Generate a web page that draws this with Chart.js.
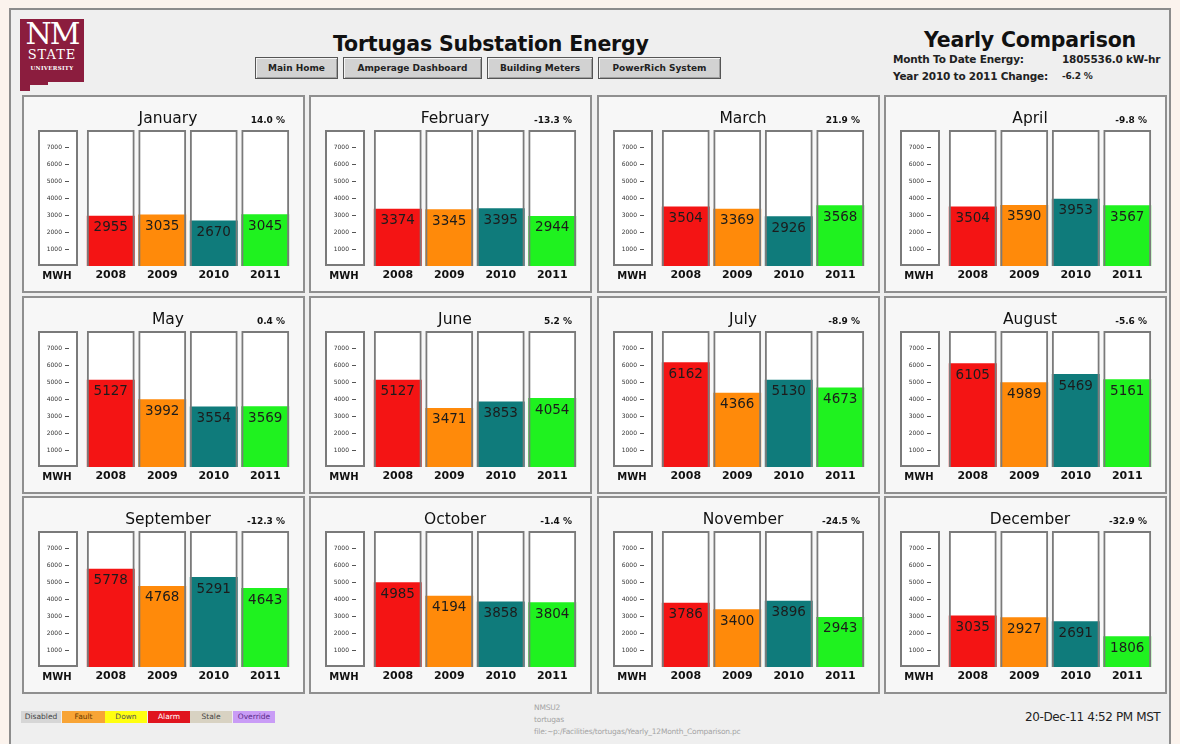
<!doctype html>
<html lang="en">
<head>
    <meta charset="utf-8">
    <title>Tortugas Substation Energy - Yearly Comparison</title>
    <style>
        body {
            margin: 0;
            width: 1180px;
            height: 744px;
            overflow: hidden;
            background: #fbf3ed;
            font-family: "DejaVu Sans", Verdana, sans-serif;
            position: relative;
        }

        .frame {
            position: absolute;
            left: 9px;
            top: 8px;
            width: 1158px;
            height: 745px;
            border: 2px solid #8c8c8c;
            background: #efefef;
        }

        .abs { position: absolute; white-space: nowrap; }

        .logo {
            position: absolute;
            left: 20px;
            top: 19px;
            width: 64px;
            height: 72px;
            background: #8b1d3e;
            clip-path: polygon(0 0, 64px 0, 64px 63px, 28px 63px, 28px 66px, 10px 66px, 10px 72px, 0 72px);
            color: #fff;
            font-family: "DejaVu Serif", "Liberation Serif", serif;
            text-align: center;
        }
        .logo .nm { position: absolute; left: 0; top: 0px; width: 64px; font-size: 30px; letter-spacing: -2px; line-height: 30px; }
        .logo .st { position: absolute; left: 0; top: 29px; width: 64px; font-size: 13px; letter-spacing: 1px; line-height: 14px; }
        .logo .un { position: absolute; left: 0; top: 45px; width: 64px; font-size: 5.5px; letter-spacing: 0.3px; line-height: 8px; font-weight: bold; }

        .btn {
            position: absolute;
            top: 57px;
            height: 20px;
            background: #d2d2d2;
            border: 1px solid #555;
            box-shadow: inset 1px 1px #f4f4f4, inset -1px -1px #a0a0a0;
            font-size: 9px;
            font-weight: bold;
            color: #222;
            text-align: center;
            line-height: 20px;
        }

        .info { font-size: 10.5px; font-weight: bold; color: #222; letter-spacing: -0.2px; }

        .panel {
            position: absolute;
            width: 279px;
            height: 194px;
            border: 2px solid #8f8f8f;
            background: #f7f7f7;
        }
        .panel canvas { position: absolute; left: 0; top: 0; }

        .legend {
            position: absolute;
            top: 711px;
            height: 12px;
            font-size: 7.5px;
            line-height: 12px;
            text-align: center;
        }
        .note { color: #a4a4a4; font-size: 7.5px; letter-spacing: -0.2px; }
    </style>
</head>
<body>
    <div class="frame"></div>

    <div class="logo">
        <div class="nm">NM</div>
        <div class="st">STATE</div>
        <div class="un">UNIVERSITY</div>
    </div>

    <div class="abs" style="left:333px; top:32px; font-size:20.5px; font-weight:bold; color:#111; letter-spacing:-0.2px;">Tortugas Substation Energy</div>

    <div class="btn" style="left:255px; width:81px;">Main Home</div>
    <div class="btn" style="left:343px; width:137px;">Amperage Dashboard</div>
    <div class="btn" style="left:487px; width:104px;">Building Meters</div>
    <div class="btn" style="left:598px; width:121px;">PowerRich System</div>

    <div class="abs" style="left:924px; top:28px; font-size:20.5px; font-weight:bold; color:#111; letter-spacing:-0.2px;">Yearly Comparison</div>
    <div class="abs info" style="left:893px; top:53px;">Month To Date Energy:</div>
    <div class="abs info" style="left:1062px; top:53px;">1805536.0 kW-hr</div>
    <div class="abs info" style="left:893px; top:70px;">Year 2010 to 2011 Change:</div>
    <div class="abs info" style="left:1062px; top:71px; font-size:9px;">-6.2 %</div>

    <div id="panels"></div>

    <div class="legend" style="left:21px; width:40px; background:#d6d6d6; color:#444;">Disabled</div>
    <div class="legend" style="left:62px; width:43px; background:#f8a435; color:#6b3c00;">Fault</div>
    <div class="legend" style="left:105px; width:42px; background:#ffff10; color:#555;">Down</div>
    <div class="legend" style="left:148px; width:42px; background:#e0141e; color:#fff;">Alarm</div>
    <div class="legend" style="left:190px; width:42px; background:#d8d2c2; color:#444;">Stale</div>
    <div class="legend" style="left:233px; width:42px; background:#c99cf6; color:#5a2a8a;">Override</div>

    <div class="abs note" style="left:534px; top:703px;">NMSU2</div>
    <div class="abs note" style="left:534px; top:715px;">tortugas</div>
    <div class="abs note" style="left:534px; top:727px;">file:~p:/Facilities/tortugas/Yearly_12Month_Comparison.pc</div>

    <div class="abs" style="left:1025px; top:710px; font-size:12px; color:#222; letter-spacing:-0.4px;">20-Dec-11 4:52 PM MST</div>

    <script src="https://cdn.jsdelivr.net/npm/chart.js"></script>
    <script>
        const months = ['January', 'February', 'March', 'April', 'May', 'June',
            'July', 'August', 'September', 'October', 'November', 'December'];
        const years = ['2008', '2009', '2010', '2011'];
        const mwh2008 = [2955, 3374, 3504, 3504, 5127, 5127, 6162, 6105, 5778, 4985, 3786, 3035];
        const mwh2009 = [3035, 3345, 3369, 3590, 3992, 3471, 4366, 4989, 4768, 4194, 3400, 2927];
        const mwh2010 = [2670, 3395, 2926, 3953, 3554, 3853, 5130, 5469, 5291, 3858, 3896, 2691];
        const mwh2011 = [3045, 2944, 3568, 3567, 3569, 4054, 4673, 5161, 4643, 3804, 2943, 1806];
        const pctChange = ['14.0 %', '-13.3 %', '21.9 %', '-9.8 %', '0.4 %', '5.2 %',
            '-8.9 %', '-5.6 %', '-12.3 %', '-1.4 %', '-24.5 %', '-32.9 %'];
        const yTicks = [1000, 2000, 3000, 4000, 5000, 6000, 7000];
        const yMax = 8000;
        const yearColors = ['#f41414', '#ff8a0a', '#0f7b7b', '#1ff21f'];

        const panelX = [22, 309, 597, 884];
        const panelY = [95, 296, 496];

        // draws the title, % change, the MWH axis box and the numbers on the bars
        const panelDecor = {
            id: 'panelDecor',
            afterDatasetsDraw(chart, args, opts) {
                const ctx = chart.ctx;
                const area = chart.chartArea;
                const y = chart.scales.y;
                ctx.save();

                ctx.fillStyle = '#111';
                ctx.textAlign = 'center';
                ctx.textBaseline = 'middle';
                ctx.font = '15.5px "DejaVu Sans"';
                ctx.fillText(opts.month, 144, 22);

                ctx.textAlign = 'right';
                ctx.font = 'bold 9px "DejaVu Sans"';
                ctx.fillText(opts.pct, 261, 24);

                // axis box
                ctx.fillStyle = '#fff';
                ctx.fillRect(15, area.top, 38, area.bottom - area.top);
                ctx.strokeStyle = '#7a7a7a';
                ctx.lineWidth = 2;
                ctx.strokeRect(15, area.top + 1, 38, area.bottom - area.top - 2);

                ctx.fillStyle = '#333';
                ctx.strokeStyle = '#555';
                ctx.lineWidth = 1;
                ctx.font = '6px "DejaVu Sans"';
                yTicks.forEach(v => {
                    const py = Math.round(y.getPixelForValue(v)) + 0.5;
                    ctx.fillText(String(v), 38, py);
                    ctx.beginPath();
                    ctx.moveTo(41, py);
                    ctx.lineTo(45, py);
                    ctx.stroke();
                });

                ctx.textAlign = 'center';
                ctx.fillStyle = '#111';
                ctx.font = 'bold 10px "DejaVu Sans"';
                ctx.fillText('MWH', 33, 179);

                // values on the bars
                const meta = chart.getDatasetMeta(1);
                ctx.font = '13.5px "DejaVu Sans"';
                ctx.fillStyle = '#1c1c1c';
                meta.data.forEach((bar, i) => {
                    const v = chart.data.datasets[1].data[i];
                    ctx.fillText(String(v), bar.x, bar.y + 12);
                });
                ctx.restore();
            }
        };

        const holder = document.getElementById('panels');

        months.forEach((month, m) => {
            const div = document.createElement('div');
            div.className = 'panel';
            div.style.left = panelX[m % 4] + 'px';
            div.style.top = panelY[Math.floor(m / 4)] + 'px';
            const canvas = document.createElement('canvas');
            canvas.width = 279;
            canvas.height = 194;
            div.appendChild(canvas);
            holder.appendChild(div);

            const values = [mwh2008[m], mwh2009[m], mwh2010[m], mwh2011[m]];
            const full = years.map(() => yMax);

            new Chart(canvas, {
                type: 'bar',
                data: {
                    labels: years,
                    datasets: [
                        {
                            // white tube behind each bar
                            data: full,
                            backgroundColor: '#ffffff',
                            borderWidth: 0,
                            order: 3
                        },
                        {
                            data: values,
                            backgroundColor: yearColors,
                            borderWidth: 0,
                            order: 2
                        },
                        {
                            // outline of the tube
                            data: full,
                            backgroundColor: 'rgba(0,0,0,0)',
                            borderColor: '#7a7a7a',
                            borderWidth: 2,
                            order: 1
                        }
                    ]
                },
                options: {
                    responsive: false,
                    animation: false,
                    devicePixelRatio: 1,
                    layout: {
                        padding: { left: 61, right: 12, top: 33, bottom: 5 }
                    },
                    datasets: {
                        bar: {
                            grouped: false,
                            barPercentage: 0.93,
                            categoryPercentage: 1
                        }
                    },
                    scales: {
                        x: {
                            grid: { display: false, drawTicks: false },
                            border: { display: false },
                            ticks: {
                                padding: 3,
                                color: '#111',
                                font: { family: 'DejaVu Sans', size: 11, weight: 'bold' }
                            },
                            afterFit(scale) { scale.height = 20; }
                        },
                        y: {
                            display: false,
                            min: 0,
                            max: yMax
                        }
                    },
                    plugins: {
                        legend: { display: false },
                        tooltip: { enabled: false },
                        panelDecor: { month: month, pct: pctChange[m] }
                    }
                },
                plugins: [panelDecor]
            });
        });
    </script>
</body>
</html>
